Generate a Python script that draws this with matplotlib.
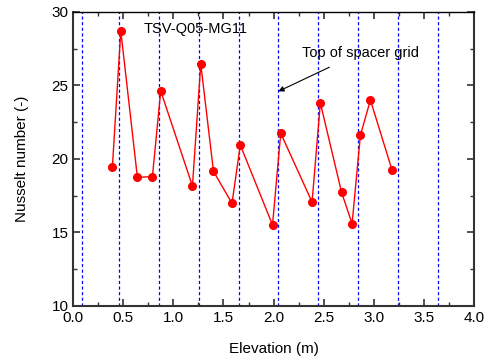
import matplotlib
matplotlib.use("Agg")
import matplotlib.pyplot as plt
from matplotlib.ticker import MultipleLocator, FormatStrFormatter

plt.rcParams['font.family'] = ['Liberation Sans', 'DejaVu Sans']

elevation = [0.39, 0.474, 0.64, 0.79, 0.873, 1.19, 1.273, 1.40, 1.585, 1.668,
             1.99, 2.072, 2.385, 2.468, 2.68, 2.785, 2.868, 2.968, 3.185]
nusselt = [19.46, 28.71, 18.75, 18.8, 24.63, 18.16, 26.46, 19.16, 16.98, 20.95,
           15.51, 21.75, 17.07, 23.81, 17.73, 15.6, 21.61, 24.01, 19.23]
grid_tops = [0.087, 0.453, 0.853, 1.253, 1.652, 2.048, 2.448, 2.847, 3.247, 3.646]

fig = plt.figure(figsize=(4.89, 3.58), dpi=100)
ax = fig.add_axes([0.15, 0.1453, 0.8187, 0.8212])

for g in grid_tops:
    ax.axvline(g, color='#0000ff', lw=0.9, ls=(0, (2.5, 2)), zorder=1)

ax.plot(elevation, nusselt, color='red', lw=1.0, marker='o', ms=5.5,
        markerfacecolor='red', markeredgecolor='red', zorder=3)

ax.set_xlim(0, 4)
ax.set_ylim(10, 30)
ax.xaxis.set_major_locator(MultipleLocator(0.5))
ax.xaxis.set_minor_locator(MultipleLocator(0.25))
ax.yaxis.set_major_locator(MultipleLocator(5))
ax.yaxis.set_minor_locator(MultipleLocator(2.5))
ax.tick_params(which='both', direction='in', top=True, right=True, labelsize=11,
               color='#333333')
ax.tick_params(which='major', length=5, width=1.2)
ax.tick_params(which='minor', length=3, width=1.0)
ax.xaxis.set_major_formatter(FormatStrFormatter('%.1f'))
for s in ax.spines.values():
    s.set_linewidth(1.5)
    s.set_color('#333333')
ax.spines['top'].set_linewidth(1.0)
ax.spines['top'].set_color('black')

ax.set_xlabel('Elevation (m)', fontsize=11, labelpad=12)
ax.set_ylabel('Nusselt number (-)', fontsize=11, labelpad=16)

ax.text(0.70, 28.84, 'TSV-Q05-MG11', fontsize=10.5, va='center', ha='left')
ax.annotate('Top of spacer grid', xy=(2.048, 24.6), xytext=(2.28, 27.23),
            fontsize=10.5, va='center', ha='left',
            arrowprops=dict(arrowstyle='-|>', color='black', lw=0.8,
                            shrinkA=8, shrinkB=0, mutation_scale=8))

fig.savefig('out.png', dpi=100)
